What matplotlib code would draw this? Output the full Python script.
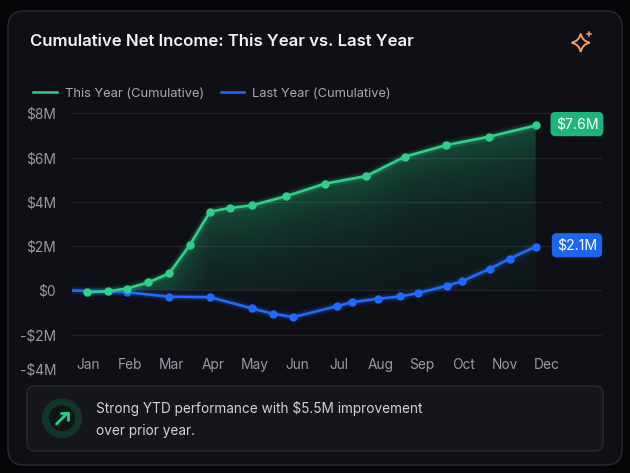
import matplotlib
matplotlib.use("Agg")
import matplotlib.pyplot as plt
import numpy as np
from matplotlib.patches import FancyBboxPatch, Circle, PathPatch
from matplotlib.path import Path
from matplotlib.lines import Line2D
from matplotlib.colors import to_rgb
from matplotlib.transforms import ScaledTranslation

# data (values in $M, x in months from Jan)
months = ["Jan", "Feb", "Mar", "Apr", "May", "Jun", "Jul", "Aug", "Sep", "Oct", "Nov", "Dec"]
this_year_x = [-0.04, 0.47, 0.94, 1.44, 1.94, 2.44, 2.92, 3.40, 3.92, 4.73, 5.67, 6.67, 7.59, 8.57, 9.60, 10.73]
this_year_m = [-0.08, -0.03, 0.09, 0.37, 0.77, 2.07, 3.56, 3.73, 3.84, 4.25, 4.82, 5.17, 6.04, 6.56, 6.94, 7.45]
last_year_x = [-0.38, 0.94, 1.94, 2.92, 3.93, 4.42, 4.92, 5.96, 6.33, 6.95, 7.48, 7.91, 8.60, 8.97, 9.63, 10.11, 10.73]
last_year_m = [0.0, -0.08, -0.28, -0.30, -0.81, -1.05, -1.20, -0.71, -0.53, -0.37, -0.27, -0.12, 0.21, 0.42, 0.98, 1.44, 1.98]
end_labels = ["$7.6M", "$2.1M"]
y_ticks = [-4, -2, 0, 2, 4, 6, 8]
y_tick_labels = ["-$4M", "-$2M", "$0", "$2M", "$4M", "$6M", "$8M"]
series_names = ["This Year (Cumulative)", "Last Year (Cumulative)"]
title = "Cumulative Net Income: This Year vs. Last Year"
insight = "Strong YTD performance with $5.5M improvement\nover prior year."

GREEN = "#2fd08a"
BLUE = "#1f6bff"
W, H = 630, 473

plt.rcParams['font.family'] = ['Inter', 'DejaVu Sans']

fig = plt.figure(figsize=(6.3, 4.73), dpi=100, facecolor='#060609')

def fx(px):
    return px / W

def fy(py):
    return 1 - py / H

# background layer in pixel coords
bg = fig.add_axes([0, 0, 1, 1], zorder=0)
bg.set_xlim(0, W)
bg.set_ylim(H, 0)
bg.axis('off')
card = FancyBboxPatch((8, 11), 614, 454, boxstyle="round,pad=0,rounding_size=16",
                      fc='#0f0f16', ec='#2a2a33', lw=1)
bg.add_patch(card)
# faint purple tint in the top-left of the card
yy, xx = np.mgrid[0:H, 0:W]
tint = np.zeros((H, W, 4))
tint[..., :3] = to_rgb('#3a2060')
tint[..., 3] = 0.28 * np.clip(1 - np.hypot(xx / 420, yy / 160), 0, 1) ** 1.5
timg = bg.imshow(tint, extent=[0, W, H, 0], zorder=0.5, interpolation='bilinear')
timg.set_clip_path(card)
bg.set_xlim(0, W)
bg.set_ylim(H, 0)

# sparkle icon
cx, cy, r, k = 580.7, 42.7, 9.0, 1.6
verts = [(cx, cy - r), (cx + k, cy - k), (cx + r, cy), (cx + k, cy + k), (cx, cy + r),
         (cx - k, cy + k), (cx - r, cy), (cx - k, cy - k), (cx, cy - r)]
codes = [Path.MOVETO] + [Path.CURVE3] * 8
bg.add_patch(PathPatch(Path(verts, codes), fc='none', ec='#f5a05a', lw=1.4, zorder=2))
bg.plot([586.5, 591], [34, 34], color='#f5a05a', lw=1.1, zorder=2)
bg.plot([588.7, 588.7], [31.8, 36.2], color='#f5a05a', lw=1.1, zorder=2)

# insight box
bg.add_patch(FancyBboxPatch((27, 386), 576, 65, boxstyle="round,pad=0,rounding_size=8",
                            fc='#15151c', ec='#292932', lw=1, zorder=2))
bg.add_patch(Circle((62, 418.3), 20, fc='#11352a', ec='none', zorder=3))
bg.add_patch(Circle((62, 418.3), 13, fc='#0c1714', ec='none', zorder=3))
bg.plot([56.5, 67.5], [424, 413], color='#26d07f', lw=2, solid_capstyle='round', zorder=4)
bg.plot([61, 67.5, 67.5], [413, 413, 419.5], color='#26d07f', lw=2,
        solid_capstyle='round', solid_joinstyle='miter', zorder=4)
bg.text(96, 419.5, insight, fontsize=9.8, color='#d2d2da', va='center', ha='left',
        linespacing=1.75, zorder=4)

# title + legend
fig.text(fx(30), fy(42), title, fontsize=12, weight='semibold', color='#f4f4f6', va='center')
handles = [Line2D([], [], color=GREEN, lw=1.8), Line2D([], [], color=BLUE, lw=1.8)]
fig.legend(handles=handles, labels=series_names, loc='center left', bbox_to_anchor=(fx(33), fy(94)),
           ncol=2, frameon=False, fontsize=9.3, labelcolor='#a9a9b3', handlelength=1.85,
           handletextpad=0.6, columnspacing=1.3, borderpad=0, borderaxespad=0)

# main chart
ax = fig.add_axes([fx(72), fy(379.1), fx(602) - fx(72), (379.1 - 100) / H], zorder=1)
ax.patch.set_alpha(0)
for s in ax.spines.values():
    s.set_visible(False)

ax.hlines(y_ticks[1:], -0.39, 12.32, color='#23232c', lw=0.9, zorder=0)

# area under this year: fades with distance below the line
poly = ax.fill_between(this_year_x, this_year_m, 0, color='none', lw=0)
gx = np.linspace(-0.39, 12.32, 400)
gy = np.linspace(8.0, 0, 300)
line_at = np.interp(gx, this_year_x, this_year_m)
depth = np.clip(line_at[None, :] - gy[:, None], 0, None)
grad = np.zeros((300, 400, 4))
grad[..., :3] = to_rgb('#22c47f')
grad[..., 3] = 0.30 * np.exp(-depth / 2.6) + 0.03
im = ax.imshow(grad, extent=[-0.39, 12.32, 0, 8.0], aspect='auto', origin='upper',
               zorder=1, interpolation='bilinear')
im.set_clip_path(poly.get_paths()[0], transform=ax.transData)

for lw, a in [(7, 0.07), (4.5, 0.14)]:
    ax.plot(this_year_x, this_year_m, color=GREEN, lw=lw, alpha=a, solid_capstyle='round', zorder=2)
    ax.plot(last_year_x, last_year_m, color=BLUE, lw=lw, alpha=a, solid_capstyle='round', zorder=2)
ax.plot(last_year_x, last_year_m, color=BLUE, lw=1.9, marker='o', ms=5,
        markevery=list(range(1, len(last_year_x))), zorder=3)
ax.plot(this_year_x, this_year_m, color=GREEN, lw=1.9, marker='o', ms=5, zorder=4)

# end badges
for xs, ys, lab, col in [(this_year_x, this_year_m, end_labels[0], '#1db57c'),
                         (last_year_x, last_year_m, end_labels[1], '#1a66f0')]:
    ax.annotate(lab, xy=(xs[-1], ys[-1]), xytext=(29.7, 1), textcoords='offset points',
                ha='center', va='center', color='white', fontsize=10.2,
                bbox=dict(boxstyle='round,pad=0.36,rounding_size=0.35', fc=col, ec='none'), zorder=5)

ax.set_xticks(range(len(months)), months)
ax.set_yticks(y_ticks, y_tick_labels)
ax.tick_params(axis='both', length=0, colors='#9a9aa5', labelsize=9.9)
ax.tick_params(axis='x', pad=-15)
ax.tick_params(axis='y', pad=11.5)
lab0 = ax.get_yticklabels()[0]
lab0.set_transform(lab0.get_transform() + ScaledTranslation(0, 0.10, fig.dpi_scale_trans))

ax.set_xlim(-0.39, 12.32)
ax.set_ylim(-4, 8.6)

fig.savefig('out.png', dpi=100, facecolor=fig.get_facecolor())
